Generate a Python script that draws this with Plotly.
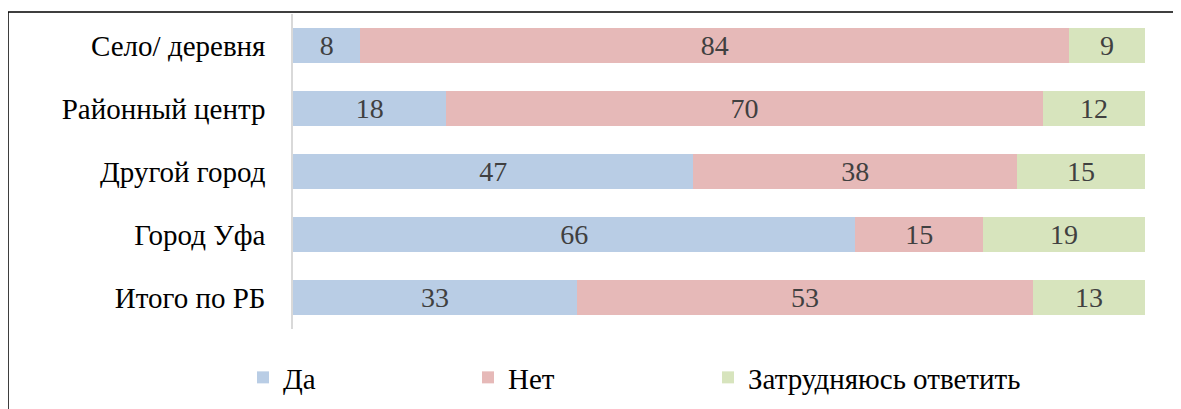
import plotly.graph_objects as go

categories = ["Село/ деревня", "Районный центр", "Другой город", "Город Уфа", "Итого по РБ"]
series_names = ["Да", "Нет", "Затрудняюсь ответить"]
yes_vals = [8, 18, 47, 66, 33]
no_vals = [84, 70, 38, 15, 53]
unsure_vals = [9, 12, 15, 19, 13]
colors = ["#B9CDE5", "#E6B9B8", "#D7E4BD"]

SERIF = "Liberation Serif, Times New Roman, serif"
legend_ids = ["legend", "legend2", "legend3"]
legend_x = [-0.0587, 0.2054, 0.4871]

fig = go.Figure()
for name, vals, col, lg in zip(series_names, [yes_vals, no_vals, unsure_vals], colors, legend_ids):
    fig.add_trace(go.Bar(
        y=categories, x=vals, name=name, orientation="h",
        marker=dict(color=col, line=dict(width=0)),
        text=vals, texttemplate="%{text}", textposition="inside",
        insidetextanchor="middle", textangle=0,
        textfont=dict(family=SERIF, size=28, color="#404040"),
        constraintext="none", legend=lg,
    ))

legend_common = dict(orientation="h", xanchor="left", y=-0.154, yanchor="middle", itemwidth=30,
                     font=dict(family=SERIF, size=29, color="black"), bgcolor="rgba(0,0,0,0)")

fig.update_layout(
    barmode="stack", barnorm="percent", bargap=0.43,
    width=1173, height=401,
    margin=dict(l=285, r=36, t=6, b=77),
    paper_bgcolor="white", plot_bgcolor="white",
    font=dict(family=SERIF, size=29, color="black"),
    xaxis=dict(range=[0, 100], showgrid=False, showticklabels=False, zeroline=False, showline=False, fixedrange=True),
    yaxis=dict(autorange="reversed", showgrid=False, showline=True, linecolor="#D9D9D9", linewidth=1.5,
               ticks="", ticklabelstandoff=20, tickfont=dict(family=SERIF, size=29, color="black")),
    legend=dict(x=legend_x[0], **legend_common),
    legend2=dict(x=legend_x[1], **legend_common),
    legend3=dict(x=legend_x[2], **legend_common),
    showlegend=True,
    shapes=[dict(type="rect", xref="paper", yref="paper", x0=-0.3345, x1=1.06, y0=-0.4, y1=1.006,
                 line=dict(color="black", width=1.5), fillcolor="rgba(0,0,0,0)", layer="above")],
)

fig.write_html("out.html")
